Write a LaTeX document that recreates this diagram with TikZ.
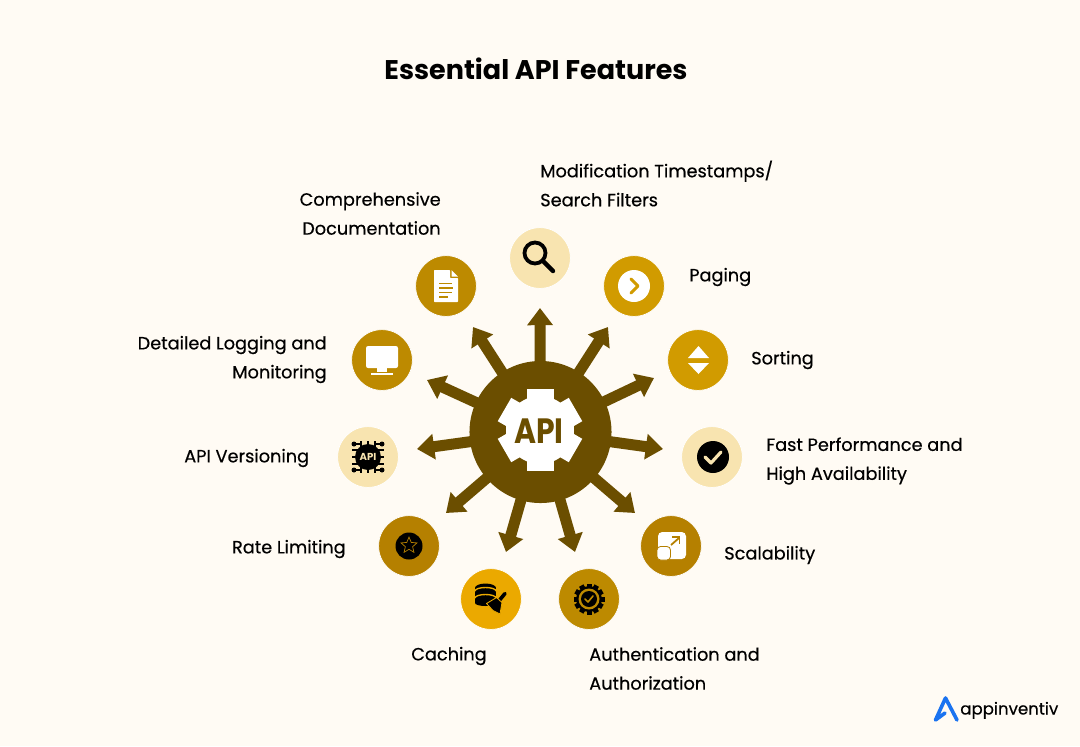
\documentclass[tikz,border=0pt]{standalone}
\usepackage{fontspec}
\setmainfont{Poppins}
\newfontfamily\labelfont[FakeBold=0.45]{Poppins}
\usetikzlibrary{arrows.meta, shapes.geometric}
\definecolor{paper}{HTML}{FFFBF4}
\definecolor{hubbrown}{HTML}{6B4E00}
\definecolor{palegold}{HTML}{F8E4B0}
\definecolor{amber}{HTML}{D19B00}
\definecolor{ochre}{HTML}{BD8A00}
\definecolor{darkgold}{HTML}{B58000}
\definecolor{brightgold}{HTML}{EBA900}
\definecolor{logoblue}{HTML}{1A73F0}
\tikzset{
	x=0.025cm, y=-0.025cm,
	badge/.style={circle, draw=white, line width=0.5pt, minimum size=1.52cm, inner sep=0pt},
	spoke/.style={draw=hubbrown, line width=0.275cm, shorten <=-3pt, -{Triangle[length=0.43cm, width=0.62cm]}},
	feature/.style={font=\labelfont\fontsize{12.6}{20.6}\selectfont, text=black, inner sep=0pt}
}

\begin{document}
\begin{tikzpicture}
\useasboundingbox (0,0) rectangle (1080,746);
\fill[paper] (0,0) rectangle (1080,746);
\node (title) [font=\bfseries\fontsize{19.2}{24}\selectfont, inner sep=0pt] at (536,69) {Essential API Features};

% hub
\node (hub) [circle, fill=hubbrown, minimum size=3.55cm, inner sep=0pt] at (540.5,432) {};
\coordinate (tipa) at (540,308);
\coordinate (tipb) at (608,327);
\coordinate (tipc) at (654,378);
\coordinate (tipd) at (663,449);
\coordinate (tipe) at (635,513);
\coordinate (tipf) at (575,552);
\coordinate (tipg) at (506,552);
\coordinate (tiph) at (446,513);
\coordinate (tipi) at (417,449);
\coordinate (tipj) at (427,380);
\coordinate (tipk) at (473,327);
\draw[spoke] (hub) -- (tipa); \draw[spoke] (hub) -- (tipb);
\draw[spoke] (hub) -- (tipc); \draw[spoke] (hub) -- (tipd);
\draw[spoke] (hub) -- (tipe); \draw[spoke] (hub) -- (tipf);
\draw[spoke] (hub) -- (tipg); \draw[spoke] (hub) -- (tiph);
\draw[spoke] (hub) -- (tipi); \draw[spoke] (hub) -- (tipj);
\draw[spoke] (hub) -- (tipk);

% gear
\fill[white] (540,430) circle (34);
\foreach \a in {0,60,120,180,240,300}
	\fill[white, rotate around={\a:(540,430)}] (526.5,389) rectangle (553.5,430);
\node (apitext) [font=\bfseries\fontsize{25}{30}\selectfont, text=hubbrown, inner sep=0pt, xscale=0.85] at (539,431) {API};

% badges
\node (doc) [badge, fill=ochre] at (446,286) {};
\node (search) [badge, fill=palegold] at (540,258) {};
\node (paging) [badge, fill=amber] at (634,286) {};
\node (sorting) [badge, fill=amber] at (698,360) {};
\node (fast) [badge, fill=palegold] at (712,457) {};
\node (scale) [badge, fill=darkgold] at (671,546) {};
\node (auth) [badge, fill=ochre] at (589,599) {};
\node (cache) [badge, fill=brightgold] at (491,599) {};
\node (rate) [badge, fill=darkgold] at (409,546) {};
\node (version) [badge, fill=palegold] at (368,457) {};
\node (logging) [badge, fill=ochre] at (382,360) {};

% doc icon
\fill[white, rounded corners=0.5pt] (434,270) -- (450,270) -- (450,278) -- (458,278) -- (458,302) -- (434,302) -- cycle;
\fill[white] (451.5,270) -- (458,276.5) -- (451.5,276.5) -- cycle;
\draw[ochre, line width=1.1pt] (439,283.5) -- (452,283.5) (439,288) -- (453,288) (439,292.5) -- (452,292.5) (439,297) -- (448,297);

% search icon
\draw[black, line width=0.095cm] (535,253) circle (10.5);
\draw[black, line width=0.11cm, line cap=round] (543,261) -- (553,271);

% paging icon
\fill[white] (634,286) circle (16);
\draw[amber, line width=0.075cm, line cap=round, line join=round] (631,279) -- (638,286) -- (631,293);

% sorting icon
\fill[white] (698.5,346) -- (709,358) -- (688,358) -- cycle;
\fill[white] (698.5,374) -- (709,363) -- (688,363) -- cycle;

% fast icon
\fill[black] (713,457) circle (16);
\draw[palegold, line width=0.08cm, line cap=round, line join=round] (705,457) -- (711,463) -- (721,452);

% scale icon
\fill[white, rounded corners=3pt] (658,532) rectangle (686,559);
\draw[darkgold, fill=white, line width=0.6pt, rounded corners=2.5pt] (657,546.5) rectangle (670.5,560);
\draw[darkgold, line width=0.045cm] (671,545) -- (679,538);
\draw[darkgold, line width=0.045cm] (672,537) -- (679.5,537) -- (679.5,544);

% auth icon
\fill[black] (589,599) circle (13);
\foreach \a in {0,30,...,330}
	\fill[black, rotate around={\a:(589,599)}] (586.5,583.5) rectangle (591.5,590);
\fill[ochre] (589,599) circle (10.5);
\fill[black] (589,599) circle (8);
\draw[ochre, line width=0.04cm, line cap=round, line join=round] (585,599) -- (588,602) -- (593,596);

% cache icon
\fill[black] (475,588) rectangle (496,603);
\fill[black] (485.5,588) ellipse (10.5 and 4.5);
\fill[black] (485.5,603) ellipse (10.5 and 3);
\draw[brightgold, line width=0.035cm] (475,591) arc[start angle=180, end angle=360, x radius=10.5, y radius=3.5];
\draw[brightgold, line width=0.035cm] (475,598) arc[start angle=180, end angle=360, x radius=10.5, y radius=3.5];
\draw[black, line width=0.09cm, line cap=round] (498,602) -- (505,593.5);
\fill[black, draw=brightgold, line width=0.6pt, line join=round] (486.5,603.5) -- (496.5,597.5) -- (502,602.5) -- (500,614) -- (493,610.5) -- cycle;

% rate icon
\fill[black] (409,546) circle (13.5);
\node (ratestar) [star, star points=5, star point ratio=2.2, draw=darkgold, line width=0.5pt, minimum size=0.42cm, inner sep=0pt] at (409,545.5) {};

% version icon
\draw[black, line width=0.035cm]
	(352,450) -- (384,450) (352,457) -- (384,457) (352,464) -- (384,464)
	(361,441) -- (361,473) (368,441) -- (368,473) (375,441) -- (375,473);
\draw[black, line width=0.035cm] (354,444) -- (361,444) -- (361,449) (382,444) -- (375,444) -- (375,449)
	(354,470) -- (361,470) -- (361,465) (382,470) -- (375,470) -- (375,465);
\fill[black] (354,444) circle (2.5); \fill[black] (382,444) circle (2.5);
\fill[black] (354,470) circle (2.5); \fill[black] (382,470) circle (2.5);
\fill[black] (368,457) circle (13);
\node (chiptext) [font=\bfseries\fontsize{7.2}{8}\selectfont, text=palegold, inner sep=0pt] at (368,457) {API};

% logging icon
\fill[white, rounded corners=1.5pt] (366,346) rectangle (398,368);
\fill[white] (377,368) rectangle (387,372);
\fill[white] (371,372.5) rectangle (393,374.5);

% labels
\node (modlabel) [feature, anchor=west, align=left] at (540,183.5) {Modification Timestamps/\\Search Filters};
\node (doclabel) [feature, anchor=east, align=right] at (441,213.5) {Comprehensive\\Documentation};
\node (paginglabel) [feature, anchor=west] at (689,277) {Paging};
\node (sortinglabel) [feature, anchor=west] at (751,360) {Sorting};
\node (fastlabel) [feature, anchor=west, align=left] at (766,461) {Fast Performance and\\High Availability};
\node (scalelabel) [feature, anchor=west] at (724,555) {Scalability};
\node (authlabel) [feature, anchor=west, align=left] at (589,668.5) {Authentication and\\Authorization};
\node (cachelabel) [feature, anchor=west] at (411,656) {Caching};
\node (ratelabel) [feature, anchor=east] at (346,549) {Rate Limiting};
\node (versionlabel) [feature, anchor=west] at (184,458) {API Versioning};
\node (logginglabel) [feature, anchor=east, align=right] at (327,359.5) {Detailed Logging and\\Monitoring};

% logo
\draw[logoblue, line width=0.09cm, line cap=round, line join=round] (945,713) -- (935.5,720) -- (945.5,698) -- (957,720);
\node (logotext) [font=\labelfont\fontsize{11.8}{14}\selectfont, anchor=base west, inner sep=0pt] at (960,714.5) {appinventiv};
\end{tikzpicture}
\end{document}
